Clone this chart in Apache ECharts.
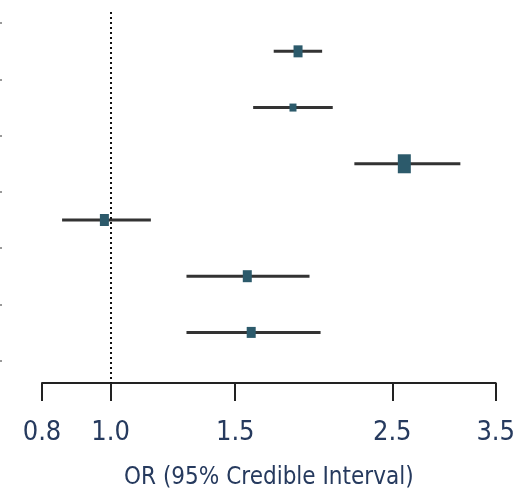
<!DOCTYPE html>
<html>
<head>
<meta charset="utf-8">
<script src="https://cdn.jsdelivr.net/npm/echarts@6/dist/echarts.min.js"></script>
<style>html,body{margin:0;padding:0;background:#fff;}#c{width:518px;height:497px;}</style>
</head>
<body>
<div id="c"></div>
<script>
// Rows (top to bottom)
const rows = [1, 2, 3, 4, 5, 6];
const estimates = [1.84, 1.81, 2.60, 0.98, 1.56, 1.58];
const lower = [1.70, 1.59, 2.21, 0.854, 1.28, 1.28];
const upper = [1.99, 2.06, 3.12, 1.14, 1.91, 1.98];
const markerSizes = [[9, 12], [7, 8], [13, 19], [9, 12], [9, 12], [9, 11]];
const xTicks = [0.8, 1.0, 1.5, 2.5, 3.5];
const rowBoundaries = [0.5, 1.5, 2.5, 3.5, 4.5, 5.5, 6.5];
const xTitle = 'OR (95% Credible Interval)';

const FONT = '"DejaVu Sans Condensed", "DejaVu Sans", sans-serif';
const chart = echarts.init(document.getElementById('c'));
chart.setOption({
  animation: false,
  grid: { left: 42, right: 20, top: 12, bottom: 114 },
  xAxis: {
    type: 'log', logBase: 10, min: 0.8, max: 3.5,
    name: xTitle, nameLocation: 'middle', nameGap: 83,
    nameTextStyle: { fontFamily: FONT, fontSize: 24, color: '#263a5e' },
    axisLine: { lineStyle: { color: '#222', width: 2 } },
    axisTick: { customValues: xTicks, length: 18, lineStyle: { color: '#222', width: 2 } },
    axisLabel: { customValues: xTicks, formatter: v => Number(v).toFixed(1), margin: 36,
      fontFamily: FONT, fontSize: 27, color: '#263a5e' },
    splitLine: { show: false }, minorTick: { show: false }
  },
  yAxis: {
    type: 'value', inverse: true, min: 0.3, max: 6.9, offset: 42,
    axisLine: { show: false },
    axisTick: { show: true, inside: true, customValues: rowBoundaries, length: 2, lineStyle: { color: '#999', width: 2 } },
    axisLabel: { show: false },
    splitLine: { show: false }
  },
  series: [
    {
      type: 'custom',
      data: rows.map((r, i) => [r, lower[i], upper[i]]),
      encode: { x: [1, 2], y: 0 },
      renderItem: function (params, api) {
        const a = api.coord([api.value(1), api.value(0)]);
        const b = api.coord([api.value(2), api.value(0)]);
        return { type: 'line', shape: { x1: a[0], y1: a[1], x2: b[0], y2: b[1] },
          style: { stroke: '#333', lineWidth: 3 } };
      },
      markLine: {
        silent: true, symbol: 'none', label: { show: false },
        lineStyle: { color: '#111', type: [2, 3], width: 2 },
        data: [{ xAxis: 1.0 }]
      },
      z: 2
    },
    {
      type: 'scatter',
      symbol: 'rect',
      data: rows.map((r, i) => ({ value: [estimates[i], r], symbolSize: markerSizes[i] })),
      itemStyle: { color: '#2c5a6b', opacity: 1 },
      z: 3
    }
  ]
});
</script>
</body>
</html>
